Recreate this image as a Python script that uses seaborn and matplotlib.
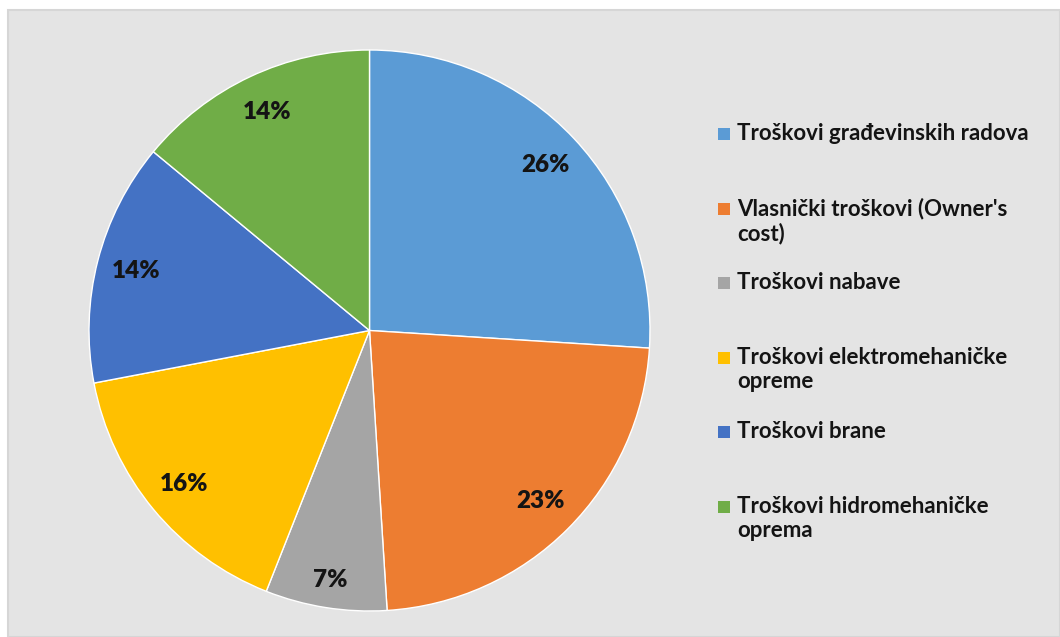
import matplotlib.pyplot as plt
import seaborn as sns
from matplotlib.patches import Rectangle

sns.set_theme(style='white')
plt.rcParams['font.family'] = ['Lato', 'DejaVu Sans']

# Cost shares (%)
categories = ['Troškovi građevinskih radova',
              "Vlasnički troškovi (Owner's\ncost)",
              'Troškovi nabave',
              'Troškovi elektromehaničke\nopreme',
              'Troškovi brane',
              'Troškovi hidromehaničke\noprema']
shares = [26, 23, 7, 16, 14, 14]
colors = ['#5B9BD5', '#ED7D31', '#A5A5A5', '#FFC000', '#4472C4', '#70AD47']

W, H = 1060, 637
fig = plt.figure(figsize=(W / 100, H / 100), dpi=100)
fig.patch.set_facecolor('white')

# grey chart area with a thin border
fig.patches.append(Rectangle((8 / W, 0), 1 - 8 / W, 1 - 10 / H, transform=fig.transFigure,
                             facecolor='#e4e4e4', edgecolor='#d6d6d6', linewidth=1.5, zorder=-10))

ax = fig.add_axes([89 / W, 26 / H, 561 / W, 561 / H])
wedges, texts, autotexts = ax.pie(shares, colors=colors, startangle=90, counterclock=False,
                                  autopct='%1.0f%%', pctdistance=0.86,
                                  wedgeprops=dict(edgecolor='white', linewidth=1),
                                  textprops=dict(fontsize=17.5, fontweight='heavy', color='#141414'))
# the small slice label sits a bit further out, like Excel's best fit
x, y = autotexts[2].get_position()
autotexts[2].set_position((x * 0.9 / 0.86, y * 0.9 / 0.86))
ax.set_aspect('equal')
ax.set_xlim(-1, 1)
ax.set_ylim(-1, 1)
ax.axis('off')

# legend drawn by hand so wrapped entries keep Excel-like spacing
y0, step = 134, 74.6
for i, (lab, col) in enumerate(zip(categories, colors)):
    y = H - (y0 + i * step)
    fig.patches.append(Rectangle((718 / W, (y - 6) / H), 12 / W, 12 / H, transform=fig.transFigure,
                                 facecolor=col, edgecolor='none'))
    fig.text(737 / W, (y + 11) / H, lab, ha='left', va='top', fontsize=16, fontweight='bold',
             color='#141414', linespacing=1.2)

fig.savefig('out.png', dpi=100, facecolor=fig.get_facecolor())
